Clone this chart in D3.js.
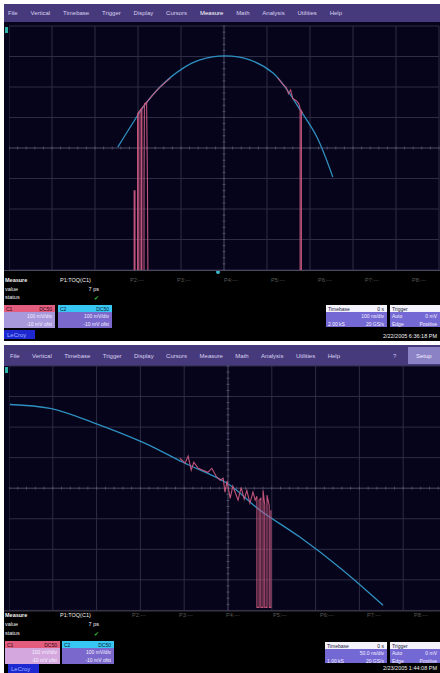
<!DOCTYPE html>
<html>
<head>
<meta charset="utf-8">
<script src="https://cdn.jsdelivr.net/npm/d3@7"></script>
<style>
  body { margin: 0; background: #fff; }
  svg { display: block; font-family: "Liberation Sans", Arial, sans-serif; }
</style>
</head>
<body>
<svg id="scope" width="440" height="673"></svg>
<script>
// ---- data (graticule divisions: x 0..10, y -4..4) ----
const menuItems = ["File", "Vertical", "Timebase", "Trigger", "Display", "Cursors",
  "Measure", "Math", "Analysis", "Utilities", "Help"];
const xDivs = [0, 1, 2, 3, 4, 5, 6, 7, 8, 9, 10];
const yDivs = [-4, -3, -2, -1, 0, 1, 2, 3, 4];
const paramLabels = ["P1:TOQ(C1)", "P2:---", "P3:---", "P4:---", "P5:---", "P6:---", "P7:---", "P8:---"];
const rowLabels = ["Measure", "value", "status"];

// top capture
const topBlueX = [2.53, 2.88, 3.12, 3.51, 4.05, 4.44, 5.02, 5.60, 6.14, 6.47, 6.77, 7.16, 7.53];
const topBlueY = [0.03, 0.82, 1.34, 2.00, 2.62, 2.89, 3.02, 2.89, 2.46, 1.90, 1.25, 0.36, -0.95];
const topPink = [
  [[2.91, -4], [2.91, -1.4], [2.93, -1.4], [2.93, -4]],
  [[2.99, -4], [2.99, 1.12], [3.02, 1.16], [3.02, -4]],
  [[3.07, -4], [3.07, 1.26], [3.09, 1.30], [3.09, -4]],
  [[3.14, -4], [3.14, -1.3], [3.15, 1.45], [3.20, 1.50], [3.22, -1.2], [3.23, -4]],
  [[3.0, 1.15], [3.23, 1.55], [3.35, 1.75], [3.50, 1.98], [3.65, 2.17], [3.75, 2.29]],
  [[6.25, 2.30], [6.35, 2.12], [6.45, 1.97], [6.50, 1.78], [6.55, 1.90], [6.60, 1.62],
   [6.68, 1.55], [6.74, 1.45], [6.77, 1.30], [6.77, -4], [6.80, -4], [6.80, 1.22], [6.83, 1.15]]
];
const topValue = "7 ps";
const topC1 = ["C1", "DC50", "100 mV/div", "-10 mV ofst"];
const topC2 = ["C2", "DC50", "100 mV/div", "-10 mV ofst"];
const topTimebase = ["Timebase", "0 s", "100 ns/div", "2.00 kS", "20 GS/s"];
const topTrigger = ["Trigger", "Auto", "0 mV", "Edge", "Positive"];
const topDate = "2/22/2005 6:36:18 PM";

// bottom capture
const botBlueX = [0.02, 0.94, 1.92, 3.06, 3.97, 4.98, 5.73, 6.64, 7.56, 8.54];
const botBlueY = [2.74, 2.61, 2.15, 1.50, 0.85, 0.16, -0.72, -1.60, -2.61, -3.83];
const botPink = [
  [[3.90, 0.98], [4.02, 0.82], [4.09, 1.05], [4.16, 0.59], [4.22, 0.85], [4.32, 0.65],
   [4.43, 0.59], [4.54, 0.52], [4.63, 0.65], [4.73, 0.39], [4.82, 0.26], [4.89, 0.33],
   [4.93, -0.13], [4.98, 0.23], [5.05, -0.33], [5.11, 0.07], [5.18, -0.20], [5.23, -0.39],
   [5.30, 0.03], [5.37, -0.36], [5.43, -0.07], [5.50, -0.49], [5.57, -0.13], [5.62, -0.39],
   [5.66, -0.26], [5.66, -3.9], [5.71, -3.9], [5.71, -0.39], [5.75, -0.33], [5.75, -3.9],
   [5.80, -3.9], [5.80, -0.07], [5.84, -0.56], [5.84, -3.9], [5.89, -3.9], [5.89, -0.23],
   [5.94, -0.56], [5.94, -3.9], [5.98, -3.9], [5.98, -0.72]]
];
const botValue = "7 ps";
const botC1 = ["C1", "DC50", "100 mV/div", "-10 mV ofst"];
const botC2 = ["C2", "DC50", "100 mV/div", "-10 mV ofst"];
const botTimebase = ["Timebase", "0 s", "50.0 ns/div", "1.00 kS", "20 GS/s"];
const botTrigger = ["Trigger", "Auto", "0 mV", "Edge", "Positive"];
const botDate = "2/23/2005 1:44:08 PM";

// ---- drawing ----
const svg = d3.select("#scope");
const W = 440;

function drawBox(g, b, head, headRight, rows, headFill, headInk, bodyFill) {
  g.append("rect").attr("x", b.x).attr("y", b.y).attr("width", b.w).attr("height", 7)
    .attr("fill", headFill);
  g.append("rect").attr("x", b.x).attr("y", b.y + 7).attr("width", b.w).attr("height", b.h - 7)
    .attr("fill", bodyFill);
  g.append("text").attr("x", b.x + 2).attr("y", b.y + 5.5).attr("font-size", 5)
    .attr("fill", headInk).text(head);
  g.append("text").attr("x", b.x + b.w - 3).attr("y", b.y + 5.5).attr("font-size", 5)
    .attr("text-anchor", "end").attr("fill", headInk).text(headRight);
  rows.forEach((r, i) => {
    const yy = b.y + 13 + i * 8;
    if (r[0]) g.append("text").attr("x", b.x + 2).attr("y", yy).attr("font-size", 5)
      .attr("fill", "#f4f0ff").text(r[0]);
    if (r[1]) g.append("text").attr("x", b.x + b.w - 3).attr("y", yy).attr("font-size", 5)
      .attr("text-anchor", "end").attr("fill", "#f4f0ff").text(r[1]);
  });
}

function panel(cfg) {
  const g = svg.append("g");
  g.append("rect").attr("x", cfg.x0).attr("y", cfg.y0).attr("width", W - cfg.x0)
    .attr("height", cfg.h).attr("fill", "#000");

  // menu bar
  g.append("rect").attr("x", cfg.x0).attr("y", cfg.y0).attr("width", W - cfg.x0)
    .attr("height", cfg.menuH).attr("fill", "#473a7c");
  const items = g.append("g").selectAll("text").data(menuItems).join("text")
    .attr("y", cfg.y0 + cfg.menuH / 2 + 2)
    .attr("font-size", 6)
    .attr("fill", d => d === "Measure" && cfg.hiMeasure ? "#ffffff" : "#d8d0f0")
    .text(d => d);
  const widths = items.nodes().map(n => n.getComputedTextLength());
  const gap = (cfg.menuEnd - cfg.menuStart - d3.sum(widths)) / (menuItems.length - 1);
  const starts = widths.map((w, i) => cfg.menuStart + d3.sum(widths.slice(0, i)) + i * gap);
  items.attr("x", (d, i) => starts[i]);
  if (cfg.setup) {
    g.append("rect").attr("x", 408).attr("y", cfg.y0 + 2).attr("width", 32)
      .attr("height", cfg.menuH - 4).attr("fill", "#8b82c6");
    g.append("text").attr("x", 416).attr("y", cfg.y0 + cfg.menuH / 2 + 2).attr("font-size", 6)
      .attr("fill", "#f0ecff").text("Setup");
    g.append("text").attr("x", 393).attr("y", cfg.y0 + cfg.menuH / 2 + 2).attr("font-size", 6)
      .attr("fill", "#c8c0ea").text("?");
  }

  // plot area
  const x = d3.scaleLinear().domain([0, 10]).range([cfg.left, cfg.left + 10 * cfg.divX]);
  const y = d3.scaleLinear().domain([-4, 4]).range([cfg.top + 8 * cfg.divY, cfg.top]);
  const clipId = "clip" + cfg.y0;
  g.append("clipPath").attr("id", clipId).append("rect")
    .attr("x", x(0)).attr("y", y(4) - 4).attr("width", W - x(0)).attr("height", y(-4) - y(4) + 4);
  g.append("rect").attr("x", cfg.x0).attr("y", cfg.y0 + cfg.menuH)
    .attr("width", W - cfg.x0).attr("height", y(-4) - cfg.y0 - cfg.menuH)
    .attr("fill", "#06041a");
  const plot = g.append("g").attr("clip-path", `url(#${clipId})`);

  plot.selectAll("line.gx").data(xDivs).join("line").attr("class", "gx")
    .attr("x1", d => x(d)).attr("x2", d => x(d)).attr("y1", y(4)).attr("y2", y(-4))
    .attr("stroke", d => d === 5 ? "#4e4c68" : "#2e2c46").attr("stroke-width", 1);
  plot.selectAll("line.gy").data(yDivs).join("line").attr("class", "gy")
    .attr("y1", d => y(d)).attr("y2", d => y(d)).attr("x1", x(0)).attr("x2", x(10))
    .attr("stroke", d => d === 0 ? "#4e4c68" : "#2e2c46").attr("stroke-width", 1);
  // minor ticks on centre lines
  const minX = d3.range(0, 10.01, 0.2), minY = d3.range(-4, 4.01, 0.2);
  plot.selectAll("line.mx").data(minX).join("line").attr("class", "mx")
    .attr("x1", d => x(d)).attr("x2", d => x(d)).attr("y1", y(0) - 1.5).attr("y2", y(0) + 1.5)
    .attr("stroke", "#605e7c").attr("stroke-width", 0.7);
  plot.selectAll("line.my").data(minY).join("line").attr("class", "my")
    .attr("y1", d => y(d)).attr("y2", d => y(d)).attr("x1", x(5) - 1.5).attr("x2", x(5) + 1.5)
    .attr("stroke", "#605e7c").attr("stroke-width", 0.7);

  const blue = cfg.blueX.map((v, i) => [v, cfg.blueY[i]]);
  plot.append("path").datum(blue)
    .attr("d", d3.line().x(d => x(d[0])).y(d => y(d[1])).curve(d3.curveCatmullRom))
    .attr("fill", "none").attr("stroke", "#2e90c0").attr("stroke-width", 1.3);
  plot.selectAll("path.pink").data(cfg.pink).join("path").attr("class", "pink")
    .attr("d", d3.line().x(d => x(d[0])).y(d => y(d[1])))
    .attr("fill", "none").attr("stroke", "#c8587f").attr("stroke-width", 1.1)
    .attr("stroke-opacity", 0.95);

  // channel markers
  g.append("rect").attr("x", cfg.x0 + 1).attr("y", y(4) + 1).attr("width", 3).attr("height", 6)
    .attr("fill", "#2fb3a8");
  if (cfg.trigMark) {
    g.append("circle").attr("cx", x(4.86)).attr("cy", y(-4) + 2).attr("r", 2).attr("fill", "#39b9c8");
  }
  g.append("line").attr("x1", cfg.x0).attr("x2", W).attr("y1", y(-4) + 0.5).attr("y2", y(-4) + 0.5)
    .attr("stroke", "#4a4860");

  // measurement rows
  rowLabels.forEach((t, i) => {
    g.append("text").attr("x", cfg.x0 + 1).attr("y", cfg.measY[i]).attr("font-size", 5.5)
      .attr("fill", "#f2f2f2").attr("font-weight", i === 0 ? "bold" : "normal").text(t);
  });
  paramLabels.forEach((t, i) => {
    g.append("text").attr("x", i === 0 ? 60 : cfg.paramX + (i - 1) * 47).attr("y", cfg.measY[0])
      .attr("font-size", 5.5).attr("fill", i === 0 ? "#f2f2f2" : "#5c5c5c").text(t);
  });
  g.append("text").attr("x", 99).attr("y", cfg.measY[1]).attr("font-size", 5.5)
    .attr("text-anchor", "end").attr("fill", "#f2f2f2").text(cfg.value);
  g.append("text").attr("x", 94).attr("y", cfg.measY[2] + 1).attr("font-size", 6)
    .attr("fill", "#35c035").text("\u2714");

  // boxes
  drawBox(g, cfg.c1Box, cfg.c1[0], cfg.c1[1], [["", cfg.c1[2]], ["", cfg.c1[3]]],
    "#e25c7e", "#2a0a18", cfg.c1Body);
  drawBox(g, cfg.c2Box, cfg.c2[0], cfg.c2[1], [["", cfg.c2[2]], ["", cfg.c2[3]]],
    "#38c6f2", "#0a2030", "#7a68cc");
  drawBox(g, cfg.tbBox, cfg.tb[0], cfg.tb[1], [["", cfg.tb[2]], [cfg.tb[3], cfg.tb[4]]],
    "#f4f2fa", "#202040", "#7468d4");
  drawBox(g, cfg.trBox, cfg.tr[0], "", [[cfg.tr[1], cfg.tr[2]], [cfg.tr[3], cfg.tr[4]]],
    "#f4f2fa", "#202040", "#7468d4");

  // brand tag and date
  g.append("rect").attr("x", cfg.tag[0]).attr("y", cfg.tag[1]).attr("width", 31).attr("height", 9)
    .attr("fill", "#1d28d0");
  g.append("text").attr("x", cfg.tag[0] + 3).attr("y", cfg.tag[1] + 6.5).attr("font-size", 6)
    .attr("fill", "#9fb0ff").text("LeCroy");
  g.append("text").attr("x", 437).attr("y", cfg.dateY).attr("font-size", 5.5)
    .attr("text-anchor", "end").attr("fill", "#f0f0f0").text(cfg.date);
}

panel({
  x0: 4, y0: 4, h: 337, menuH: 18, menuStart: 8, menuEnd: 342, hiMeasure: true,
  left: 9, top: 26, divX: 43, divY: 30.5,
  blueX: topBlueX, blueY: topBlueY, pink: topPink, trigMark: true,
  measY: [282, 291, 299], paramX: 130, value: topValue,
  c1: topC1, c1Box: { x: 4, y: 305, w: 51, h: 23 }, c1Body: "#a898dc",
  c2: topC2, c2Box: { x: 58, y: 305, w: 54, h: 23 },
  tb: topTimebase, tbBox: { x: 326, y: 305, w: 61, h: 22 },
  tr: topTrigger, trBox: { x: 390, y: 305, w: 50, h: 22 },
  tag: [4, 330], dateY: 338, date: topDate
});

panel({
  x0: 4, y0: 345, h: 328, menuH: 21, menuStart: 10, menuEnd: 340, setup: true,
  left: 9, top: 366, divX: 43.8, divY: 30.55,
  blueX: botBlueX, blueY: botBlueY, pink: botPink,
  measY: [617, 626, 635], paramX: 132, value: botValue,
  c1: botC1, c1Box: { x: 5, y: 641, w: 55, h: 23 }, c1Body: "#d4a8de",
  c2: botC2, c2Box: { x: 62, y: 641, w: 52, h: 23 },
  tb: botTimebase, tbBox: { x: 325, y: 642, w: 62, h: 21 },
  tr: botTrigger, trBox: { x: 390, y: 642, w: 50, h: 21 },
  tag: [8, 664], dateY: 670, date: botDate
});
</script>
</body>
</html>
